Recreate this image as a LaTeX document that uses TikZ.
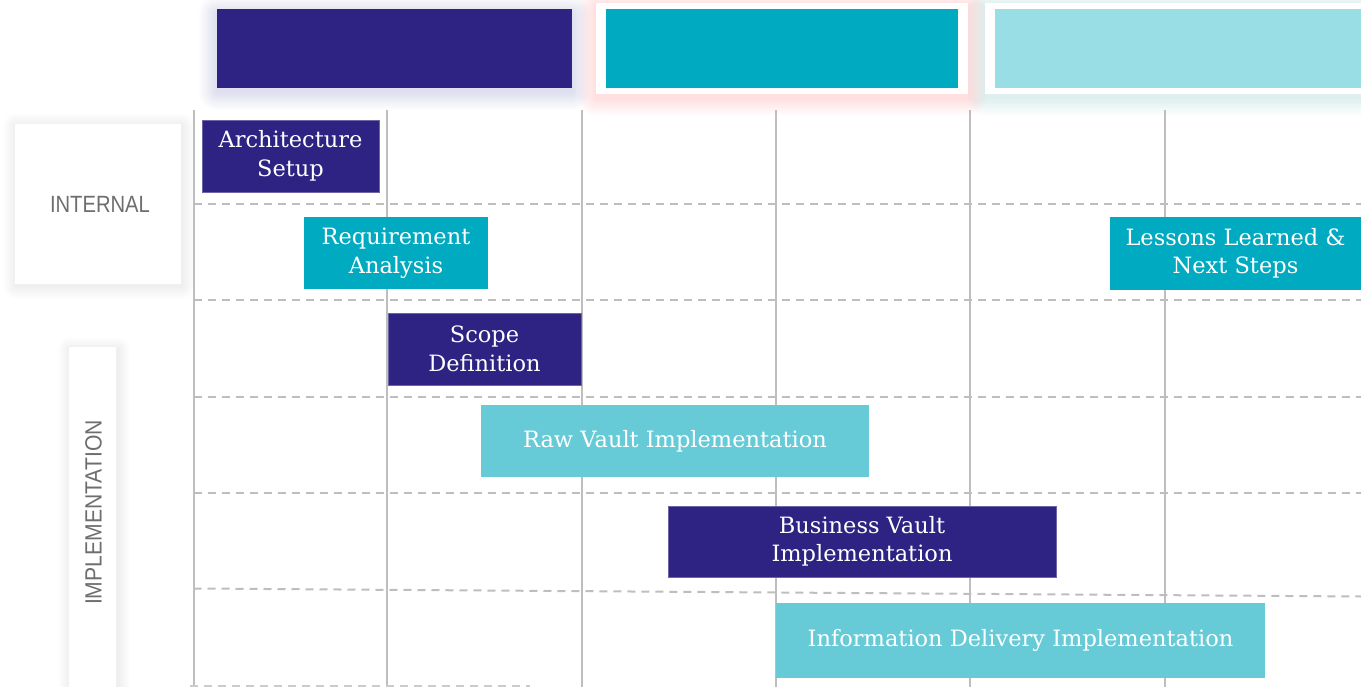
\documentclass[tikz,border=0pt]{standalone}
\usepackage{fontspec}
\setmainfont{DejaVu Serif}
\newfontfamily\labelfont{Liberation Sans}
\usetikzlibrary{calc}
\definecolor{purp}{HTML}{2E2383}
\definecolor{teal}{HTML}{00AAC0}
\definecolor{lteal}{HTML}{66CBD7}
\definecolor{pale}{HTML}{99DEE4}
\definecolor{gridc}{HTML}{BEBEBE}
\definecolor{labelc}{HTML}{6E6E6E}
% soft glow: #1,#2 corners, #3 colour, #4 max spread, #5 opacity per layer
\newcommand\softglow[5]{%
  \foreach \k in {1,...,16}{
    \fill[#3, opacity=#5, rounded corners=\k*#4/16]
      ($#1+(-\k*#4/16,-\k*#4/16)$) rectangle ($#2+(\k*#4/16,\k*#4/16)$);
  }}
\begin{document}
\begin{tikzpicture}[x=1pt,y=-1pt,
  gridv/.style={draw=gridc, line width=2pt},
  gridh/.style={draw=gridc, line width=2pt, dash pattern=on 8pt off 6pt},
  taskbox/.style={rectangle, inner sep=0pt, align=center, text=white,
    font=\fontsize{22.5}{28.5}\selectfont},
  purpbox/.style={taskbox, fill=purp, draw=purp!70!white, line width=0.8pt},
  tealbox/.style={taskbox, fill=teal},
  ltealbox/.style={taskbox, fill=lteal},
  headbox/.style={rectangle, inner sep=0pt, anchor=north west},
  sidebox/.style={rectangle, fill=white, inner sep=0pt, anchor=north west},
  sidelabel/.style={text=labelc, font=\labelfont\fontsize{23.5}{24}\selectfont, inner sep=0pt}
]
\useasboundingbox (0,0) rectangle (1361,687);
\fill[white] (0,0) rectangle (1361,687);

% glows / shadows
\softglow{(217,14)}{(572,92)}{purp}{18}{0.007}
\softglow{(596,7)}{(968,98)}{red!70}{18}{0.006}
\softglow{(985,7)}{(1375,98)}{pale!60!teal}{18}{0.006}
\softglow{(16,126)}{(182,286)}{black}{13}{0.0045}
\softglow{(70,349)}{(118,700)}{black}{12}{0.0045}

% header boxes
\node[headbox, fill=purp, minimum width=355pt, minimum height=79pt] (h1) at (217,9) {};
\node[headbox, fill=white, minimum width=372pt, minimum height=91pt] (h2frame) at (596,3) {};
\node[headbox, fill=teal, minimum width=352pt, minimum height=79pt] (h2) at (606,9) {};
\node[headbox, fill=white, minimum width=380pt, minimum height=91pt] (h3frame) at (985,3) {};
\node[headbox, fill=pale, minimum width=370pt, minimum height=79pt] (h3) at (995,9) {};

% side labels
\node[sidebox, minimum width=166pt, minimum height=160pt] (intbox) at (15,124) {};
\node[sidelabel] (intlabel) at (100,204) {\scalebox{0.86}[1]{INTERNAL}};
\node[sidebox, minimum width=47pt, minimum height=345pt] (impbox) at (69,347) {};
\node[sidelabel, rotate=90] (implabel) at (93.5,512.5) {\scalebox{0.9}[1]{IMPLEMENTATION}};

% grid
\foreach \gx/\nm in {193.5/v1,387.3/v2,581.7/v3,776/v4,970.3/v5,1164.7/v6}{
  \coordinate (\nm t) at (\gx,110);
  \coordinate (\nm b) at (\gx,687);
  \draw[gridv] (\nm t) -- (\nm b);
}
\foreach \gy/\nm in {204.5/h1,300.5/h2,396.5/h3,492.5/h4}{
  \coordinate (\nm l) at (193.5,\gy);
  \coordinate (\nm r) at (1361,\gy);
  \draw[gridh] (\nm l) -- (\nm r);
}
\coordinate (h5l) at (193.5,588.5);
\coordinate (h5r) at (1361,596.5);
\draw[gridh] (h5l) -- (h5r);
\coordinate (h6l) at (190,686);
\coordinate (h6r) at (530,686);
\draw[gridh, draw=gridc!80!white] (h6l) -- (h6r);

% tasks
\node[purpbox, minimum width=177pt, minimum height=72pt] (arch) at (290.5,156) {Architecture\\Setup};
\node[tealbox, minimum width=184pt, minimum height=72pt] (req) at (396,253) {Requirement\\Analysis};
\node[purpbox, minimum width=193pt, minimum height=72pt] (scope) at (484.5,349) {Scope\\Definition};
\node[ltealbox, minimum width=388pt, minimum height=72pt] (raw) at (675,441) {Raw Vault Implementation};
\node[purpbox, minimum width=388pt, minimum height=71pt] (bus) at (862,541.5) {Business Vault\\Implementation};
\node[ltealbox, minimum width=489pt, minimum height=75pt] (info) at (1020.5,640.5) {Information Delivery Implementation};
\node[tealbox, minimum width=251pt, minimum height=73pt] (lessons) at (1235.5,253.5) {Lessons Learned \&\\Next Steps};
\end{tikzpicture}
\end{document}
